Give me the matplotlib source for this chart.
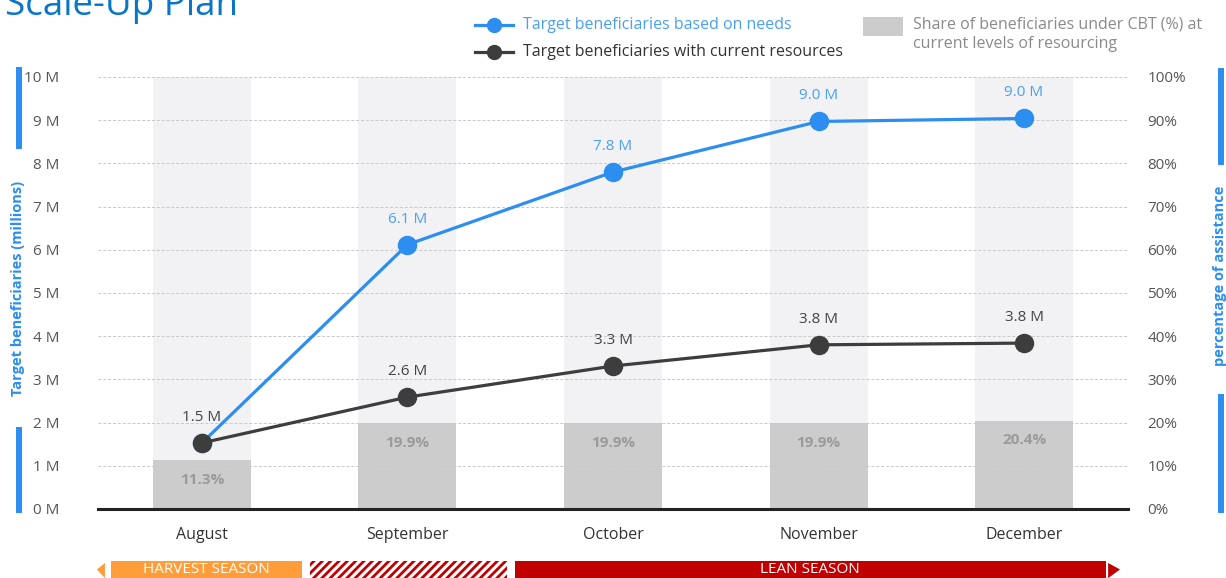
import matplotlib.pyplot as plt
import matplotlib.transforms as mtransforms
from matplotlib.patches import Rectangle, Polygon
from matplotlib.lines import Line2D

plt.rcParams['font.family'] = ['Open Sans', 'DejaVu Sans']

months = ['August', 'September', 'October', 'November', 'December']
needs = [1.53, 6.12, 7.80, 8.97, 9.04]          # millions
current = [1.53, 2.59, 3.31, 3.80, 3.84]        # millions
cbt_share = [11.3, 19.9, 19.9, 19.9, 20.4]      # percent
needs_labels = ['', '6.1 M', '7.8 M', '9.0 M', '9.0 M']
current_labels = ['1.5 M', '2.6 M', '3.3 M', '3.8 M', '3.8 M']
left_ticks = [0, 1, 2, 3, 4, 5, 6, 7, 8, 9, 10]
right_ticks = [0, 10, 20, 30, 40, 50, 60, 70, 80, 90, 100]

BLUE = '#2b8ef0'
BLUE_TXT = '#4a9ff5'
DARK = '#3d3d3d'
TICK = '#555555'

fig = plt.figure(figsize=(12.26, 5.78), dpi=100)
ax = fig.add_axes([0.0799, 0.1194, 0.8402, 0.7474])
ax2 = ax.twinx()
ax.set_zorder(ax2.get_zorder() + 1)
ax.patch.set_visible(False)

x = list(range(len(months)))

# bars on the percent axis
ax2.bar(x, [100] * len(x), width=0.477, color='#f2f2f4', zorder=1)
ax2.bar(x, cbt_share, width=0.477, color='#cccccc', zorder=2)
for i, v in enumerate(cbt_share):
    ax2.annotate(f'{v:.1f}%', (i, v), xytext=(0, -9), textcoords='offset points',
                 ha='center', va='top', fontsize=11, color='#9a9a9a', fontweight='bold')
ax2.set_ylim(0, 100)
ax2.set_yticks(right_ticks)
ax2.set_yticklabels([f'{t}%' for t in right_ticks])

# lines
ax.plot(x, needs, color=BLUE, lw=2.3, marker='o', ms=13, zorder=5)
ax.plot(x, current, color=DARK, lw=2.3, marker='o', ms=13, zorder=6)
for i, (v, lab) in enumerate(zip(needs, needs_labels)):
    if lab:
        ax.annotate(lab, (i, v), xytext=(0, 13), textcoords='offset points',
                    ha='center', va='bottom', fontsize=11, color=BLUE_TXT)
for i, (v, lab) in enumerate(zip(current, current_labels)):
    ax.annotate(lab, (i, v), xytext=(0, 13), textcoords='offset points',
                ha='center', va='bottom', fontsize=11, color='#444444')

ax.set_xlim(-0.506, 4.506)
ax.set_ylim(0, 10)
ax.set_yticks(left_ticks)
ax.set_yticklabels([f'{t} M' for t in left_ticks])
ax.set_xticks(x)
ax.set_xticklabels(months)
ax.grid(axis='y', color='#c8c8c8', ls=(0, (3, 2)), lw=0.7)
ax.set_axisbelow(False)

for a in (ax, ax2):
    for s in ('top', 'left', 'right', 'bottom'):
        a.spines[s].set_visible(False)
    a.tick_params(length=0, labelsize=11, labelcolor=TICK)
ax.spines['bottom'].set_visible(True)
ax.spines['bottom'].set_linewidth(2.2)
ax.spines['bottom'].set_color('#222222')
ax.spines['bottom'].set_zorder(10)
ax.tick_params(axis='y', pad=28)
ax.tick_params(axis='x', pad=13, labelsize=11.5, labelcolor='#333333')
ax2.tick_params(axis='y', pad=14)

# season bands under the axis
tr = mtransforms.blended_transform_factory(ax.transData, ax.transAxes)
yb, yt = -0.160, -0.120
ax.add_patch(Rectangle((-0.443, yb), 0.930, yt - yb, transform=tr, clip_on=False,
                       facecolor='#ff9d3b', edgecolor='none'))
ax.text(0.022, (yb + yt) / 2, 'HARVEST SEASON', transform=tr, ha='center', va='center',
        color='white', fontsize=11, clip_on=False)
plt.rcParams['hatch.linewidth'] = 2.0
ax.add_patch(Rectangle((0.526, yb), 0.958, yt - yb, transform=tr, clip_on=False,
                       facecolor='white', edgecolor='#c00000', hatch='////', lw=0))
ax.add_patch(Rectangle((1.523, yb), 2.876, yt - yb, transform=tr, clip_on=False,
                       facecolor='#c00000', edgecolor='none'))
ax.text(2.96, (yb + yt) / 2, 'LEAN SEASON', transform=tr, ha='center', va='center',
        color='white', fontsize=11, clip_on=False)
ax.add_patch(Polygon([(-0.472, yt - 0.005), (-0.511, (yb + yt) / 2), (-0.472, yb)],
                     transform=tr, clip_on=False, facecolor='#ff9d3b', edgecolor='none'))
ax.add_patch(Polygon([(4.409, yt - 0.005), (4.467, (yb + yt) / 2), (4.409, yb)],
                     transform=tr, clip_on=False, facecolor='#c00000', edgecolor='none'))

# side axis titles and accent bars
fig.add_artist(Line2D([0.0155, 0.0155], [0.879, 0.747], color=BLUE, lw=4.3))
fig.add_artist(Line2D([0.0155, 0.0155], [0.256, 0.118], color=BLUE, lw=4.3))
fig.text(0.0147, 0.501, 'Target beneficiaries (millions)', rotation=90, ha='center',
         va='center', color=BLUE, fontsize=10.5, fontweight='bold')
fig.add_artist(Line2D([0.996, 0.996], [0.877, 0.720], color=BLUE, lw=4.3))
fig.add_artist(Line2D([0.996, 0.996], [0.313, 0.118], color=BLUE, lw=4.3))
fig.text(0.9955, 0.522, 'percentage of assistance', rotation=90, ha='center',
         va='center', color=BLUE, fontsize=10.5, fontweight='bold')

# title (cut at the top, as in the source slide)
fig.text(0.004, 0.974, 'Scale-Up Plan', ha='left', va='baseline', color='#0a76c8', fontsize=26.5)

# legend
fig.add_artist(Line2D([0.3875, 0.4185], [0.957, 0.957], color=BLUE, lw=2.3))
fig.add_artist(Line2D([0.403], [0.957], color=BLUE, marker='o', ms=10))
fig.text(0.4265, 0.957, 'Target beneficiaries based on needs', ha='left', va='center',
         color=BLUE_TXT, fontsize=11.5)
fig.add_artist(Line2D([0.3875, 0.4185], [0.910, 0.910], color=DARK, lw=2.3))
fig.add_artist(Line2D([0.403], [0.910], color=DARK, marker='o', ms=10))
fig.text(0.4265, 0.910, 'Target beneficiaries with current resources', ha='left', va='center',
         color='#333333', fontsize=11.5)
fig.add_artist(Rectangle((0.704, 0.938), 0.0326, 0.033, transform=fig.transFigure,
                         facecolor='#cccccc', edgecolor='none'))
fig.text(0.7447, 0.957, 'Share of beneficiaries under CBT (%) at', ha='left', va='center',
         color='#8a8a8a', fontsize=11.5)
fig.text(0.7447, 0.924, 'current levels of resourcing', ha='left', va='center',
         color='#8a8a8a', fontsize=11.5)

fig.savefig('out.png', dpi=100)
